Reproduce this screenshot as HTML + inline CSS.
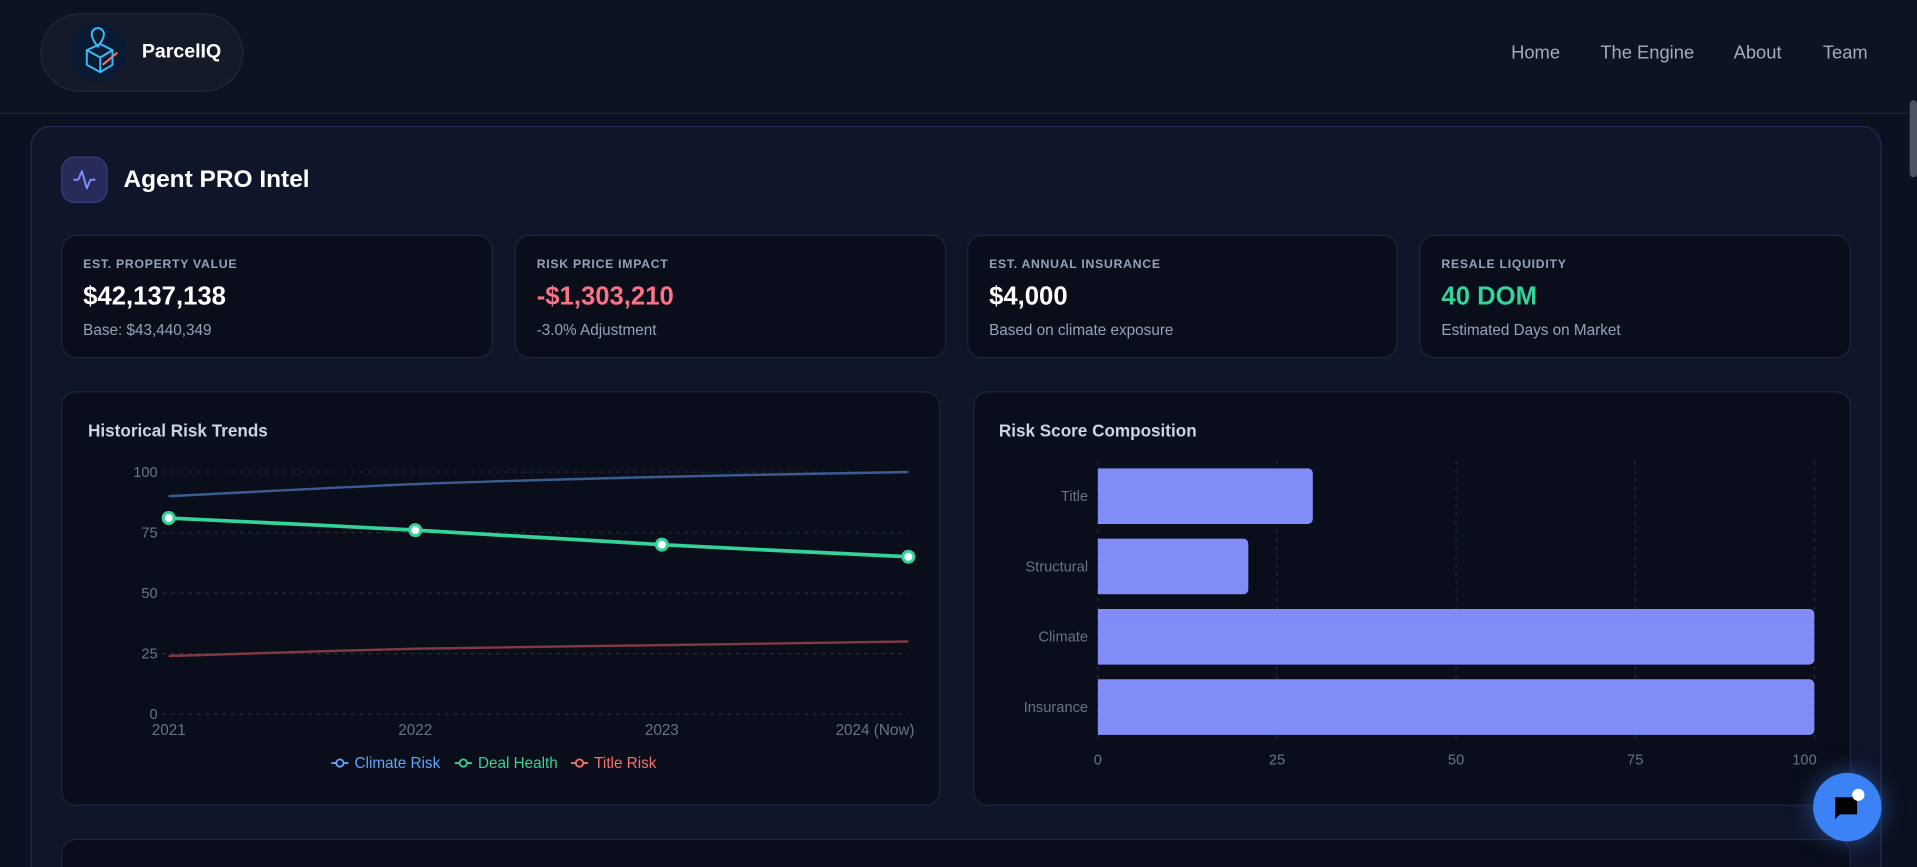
<!DOCTYPE html>
<html><head><meta charset="utf-8">
<style>
html,body{margin:0;padding:0;width:1917px;height:867px;overflow:hidden;background:#0b111e;}
#wrap{position:absolute;left:0;top:0;width:1917px;height:867px;overflow:hidden;}
#stage{position:absolute;left:0;top:0;width:1568px;height:709px;overflow:hidden;transform:scale(1.22258,1.22285);transform-origin:0 0;font-family:"Liberation Sans",sans-serif;color:#fff;background:#0b1120;}
.abs{position:absolute;}
.card{position:absolute;background:#0a0e1a;border:1px solid #1e2540;border-radius:12px;box-sizing:border-box;}
.lbl{position:absolute;left:17px;top:18px;font-size:10px;font-weight:bold;letter-spacing:0.6px;color:#94a3b8;}
.val{position:absolute;left:17px;top:38px;font-size:21px;font-weight:bold;}
.sub{position:absolute;left:17px;top:70px;font-size:12.5px;color:#94a3b8;}
.nav{position:absolute;top:35px;font-size:15px;color:#a3acbd;}
</style></head><body>
<div id="wrap">
<div id="stage">
  <div class="abs" style="left:0;top:0;width:1568px;height:92px;border-bottom:1px solid #1a2233;background:#0c1322;"></div>
  <div class="abs" style="left:33px;top:11px;width:166px;height:64px;border-radius:32px;background:#141a27;border:1px solid #232b3a;box-sizing:border-box;">
    <div class="abs" style="left:22px;top:7px;width:48px;height:48px;border-radius:50%;background:#0b1a33;">
      <svg width="48" height="48" viewBox="0 0 48 48"><path d="M15 22 L26 17 L36 22 L36 34 L26 40 L15 34 Z M15 22 L26 28 L36 22 M26 28 L26 40" fill="none" stroke="#38bdf8" stroke-width="1.6"/><path d="M24 4 a5 5 0 0 1 5 5 c0 4 -5 10 -5 10 c0 0 -5 -6 -5 -10 a5 5 0 0 1 5 -5z" fill="none" stroke="#38bdf8" stroke-width="1.6"/><path d="M28 34 L40 24" stroke="#f87171" stroke-width="1.6"/></svg>
    </div>
    <div class="abs" style="left:82px;top:22px;font-size:16px;font-weight:bold;">ParcelIQ</div>
  </div>
  <div class="nav" style="left:1236px;">Home</div>
  <div class="nav" style="left:1309px;">The Engine</div>
  <div class="nav" style="left:1418px;">About</div>
  <div class="nav" style="left:1491px;">Team</div>
  <div class="abs" style="left:1562px;top:82px;width:6px;height:63px;border-radius:3px;background:#4b5563;"></div>

  <div class="abs" style="left:25px;top:103px;width:1514px;height:606px;border-radius:16px 16px 0 0;background:#0f1629;border:1px solid #232c55;border-bottom:none;box-sizing:border-box;"></div>
  <div class="abs" style="left:50px;top:128px;width:38px;height:38px;border-radius:11px;background:#262b5a;border:1px solid #363d80;box-sizing:border-box;">
    <svg width="36" height="36" viewBox="0 0 36 36"><path d="M9 18 L13 18 L16 11 L20 25 L23 18 L27 18" fill="none" stroke="#818cf8" stroke-width="1.6" stroke-linejoin="round"/></svg>
  </div>
  <div class="abs" style="left:101px;top:136px;font-size:20px;font-weight:bold;">Agent PRO Intel</div>

  <div class="card" style="left:50px;top:192px;width:353px;height:101px;">
    <div class="lbl">EST. PROPERTY VALUE</div><div class="val">$42,137,138</div><div class="sub">Base: $43,440,349</div></div>
  <div class="card" style="left:421px;top:192px;width:353px;height:101px;">
    <div class="lbl">RISK PRICE IMPACT</div><div class="val" style="color:#fb7185;">-$1,303,210</div><div class="sub">-3.0% Adjustment</div></div>
  <div class="card" style="left:791px;top:192px;width:352px;height:101px;">
    <div class="lbl">EST. ANNUAL INSURANCE</div><div class="val">$4,000</div><div class="sub">Based on climate exposure</div></div>
  <div class="card" style="left:1161px;top:192px;width:353px;height:101px;">
    <div class="lbl">RESALE LIQUIDITY</div><div class="val" style="color:#34d399;">40 DOM</div><div class="sub">Estimated Days on Market</div></div>

  <div class="card" style="left:50px;top:320px;width:719px;height:339px;">
    <div class="abs" style="left:21px;top:23px;font-size:14px;font-weight:bold;color:#cbd5e1;">Historical Risk Trends</div></div>
  <div class="card" style="left:796px;top:320px;width:718px;height:339px;">
    <div class="abs" style="left:20px;top:23px;font-size:14px;font-weight:bold;color:#cbd5e1;">Risk Score Composition</div></div>
  <div class="card" style="left:50px;top:686px;width:1464px;height:23px;border-bottom:none;border-radius:12px 12px 0 0;"></div>

  <svg class="abs" style="left:0;top:0;" width="1568" height="709" id="charts"></svg>

  <div class="abs" style="left:1483px;top:632px;width:56px;height:56px;border-radius:50%;background:#3b82f6;box-shadow:0 0 18px rgba(59,130,246,0.5);">
    <svg width="56" height="56" viewBox="0 0 56 56"><path d="M18 20 h18 v14 h-14 l-4 4 z" fill="#000"/><circle cx="37" cy="18" r="5" fill="#fff"/></svg>
  </div>
</div>
</div>
<script>
const years = ["2021","2022","2023","2024 (Now)"];
const climateRisk = [90, 95, 98, 100];
const dealHealth = [81, 76, 70, 65];
const titleRisk = [24, 27, 28.5, 30];
const yTicks = [0, 25, 50, 75, 100];
const barCats = ["Title","Structural","Climate","Insurance"];
const barVals = [30, 21, 100, 100];
const xTicks = [0, 25, 50, 75, 100];

const NS = "http://www.w3.org/2000/svg";
const svg = document.getElementById('charts');
function mk(tag, attrs, parent){const e=document.createElementNS(NS,tag);for(const k in attrs)e.setAttribute(k,attrs[k]);(parent||svg).appendChild(e);return e;}

const lx = i => 138 + i*(743-138)/(years.length-1);
const ly = v => 584 - v*(584-386)/100;
yTicks.forEach(t=>{
  const g=mk('line',{x1:133,x2:743,y1:ly(t),y2:ly(t),stroke:'#262d3d','stroke-dasharray':'3 4'});
  
  
  const tx=mk('text',{x:129,y:ly(t)+4,'text-anchor':'end','font-size':12,fill:'#6b7280','font-family':'Liberation Sans'});
  tx.textContent=t;
  
  
});
years.forEach((y,i)=>{
  const anchor = i===years.length-1?'end':'middle';
  const tx=mk('text',{x:i===years.length-1?lx(i)+5:lx(i),y:601,'text-anchor':anchor,'font-size':12.5,fill:'#6b7280','font-family':'Liberation Sans'});
  tx.textContent=y;
  
  
});
function smooth(vals){
  const p=vals.map((v,i)=>[lx(i),ly(v)]);
  let d='M'+p[0][0]+' '+p[0][1];
  for(let i=0;i<p.length-1;i++){
    const p0=p[Math.max(0,i-1)],p1=p[i],p2=p[i+1],p3=p[Math.min(p.length-1,i+2)];
    const c1=[p1[0]+(p2[0]-p0[0])/6,p1[1]+(p2[1]-p0[1])/6],c2=[p2[0]-(p3[0]-p1[0])/6,p2[1]-(p3[1]-p1[1])/6];
    d+=` C${c1[0]} ${c1[1]} ${c2[0]} ${c2[1]} ${p2[0]} ${p2[1]}`;
  }
  return d;
}
const cl=mk('path',{d:smooth(climateRisk),fill:'none',stroke:'#3b5b92','stroke-width':2});


const tl=mk('path',{d:smooth(titleRisk),fill:'none',stroke:'#7f3a44','stroke-width':2});


const dl=mk('path',{d:smooth(dealHealth),fill:'none',stroke:'#34d399','stroke-width':3});


dealHealth.forEach((v,i)=>{
  const c=mk('circle',{cx:lx(i),cy:ly(v),r:4.5,fill:'#fff',stroke:'#34d399','stroke-width':2.5});
  
  
});
const legend=[["Climate Risk","#60a5fa",271],["Deal Health","#34d399",372],["Title Risk","#f87171",467]];
legend.forEach(([n,c,x])=>{
  const g=mk('g',{});
  
  
  mk('line',{x1:x,x2:x+14,y1:624,y2:624,stroke:c,'stroke-width':1.5},g);
  mk('circle',{cx:x+7,cy:624,r:3,fill:'#0a0e1a',stroke:c,'stroke-width':1.5},g);
  const t=mk('text',{x:x+19,y:628,'font-size':12.5,fill:c,'font-family':'Liberation Sans'},g);
  t.textContent=n;
});

const bx = v => 898 + v*(1484-898)/100;
const bandTop=377, band=57.5;
xTicks.forEach(t=>{
  const g=mk('line',{x1:bx(t),x2:bx(t),y1:377,y2:607,stroke:'#262d3d','stroke-dasharray':'3 4'});
  
  
  const tx=mk('text',{x:t===100?bx(t)+2:bx(t),y:625,'text-anchor':t===100?'end':'middle','font-size':12,fill:'#6b7280','font-family':'Liberation Sans'});
  tx.textContent=t;
  
  
});
barCats.forEach((c,i)=>{
  const y=bandTop+i*band+6;
  const w=bx(barVals[i])-bx(0);
  const r=mk('path',{d:`M${bx(0)} ${y} h${w-4} a4 4 0 0 1 4 4 v${band-12-8} a4 4 0 0 1 -4 4 h${-(w-4)} z`,fill:'#818cf8'});
  
  
  const t=mk('text',{x:890,y:y+(band-12)/2+4,'text-anchor':'end','font-size':12,fill:'#6b7280','font-family':'Liberation Sans'});
  t.textContent=c;
  
  
});
</script>
</body></html>
